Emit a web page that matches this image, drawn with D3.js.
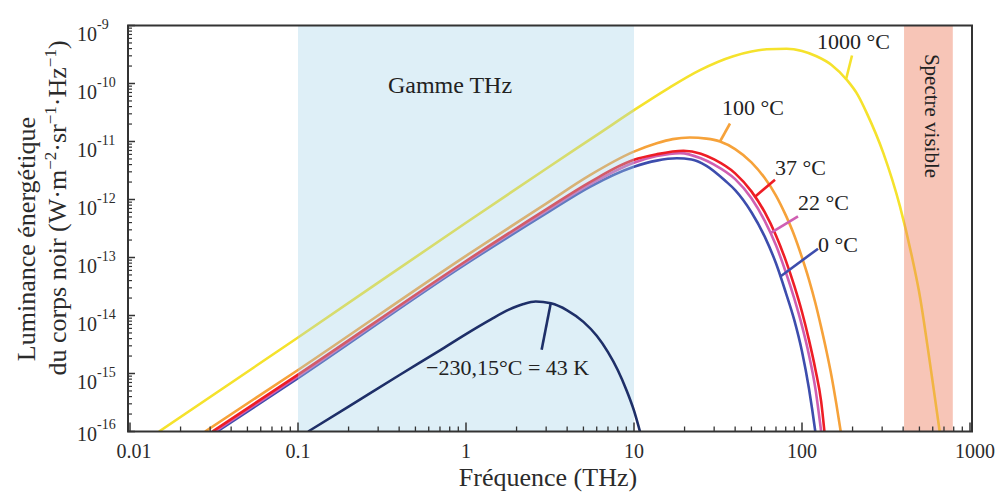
<!DOCTYPE html>
<html><head><meta charset="utf-8">
<script src="https://cdn.jsdelivr.net/npm/d3@7"></script>
<style>
html,body{margin:0;padding:0;background:#fff;}
svg{display:block;font-family:"Liberation Serif","Times New Roman",serif;}
</style></head><body>
<svg id="chart" width="999" height="493"></svg>
<script>
// ---------------- data (frequency in THz, spectral radiance in W·m-2·sr-1·Hz-1) ----------------
const freq1000C = [0.0149,0.1,1,3,6.28,10,15.65,24.7,39,50,61.7,81,100,122,150,185,215,243,305,383,460,504,560,610,660];
const lum1000C  = [1.00e-16,4.17e-15,3.98e-13,3.39e-12,1.41e-11,3.47e-11,7.94e-11,1.70e-10,2.95e-10,3.55e-10,3.89e-10,3.98e-10,3.63e-10,2.95e-10,2.09e-10,1.15e-10,6.31e-11,3.09e-11,6.31e-12,7.59e-13,7.94e-14,2.09e-14,2.82e-15,5.01e-16,1.00e-16];

const freq100C = [0.028,0.1,1,3,5.47,9.9,13.65,17,21.5,27,32.5,40,50,60,70,80,90,100,110,120,130,140,150,160,170];
const lum100C  = [1.00e-16,1.15e-15,1.07e-13,8.51e-13,2.63e-12,6.61e-12,9.33e-12,1.10e-11,1.17e-11,1.12e-11,1.00e-11,7.41e-12,4.37e-12,2.34e-12,1.17e-12,5.37e-13,2.40e-13,1.00e-13,4.17e-14,1.66e-14,6.31e-15,2.40e-15,8.91e-16,3.02e-16,1.00e-16];

const freq37C = [0.031,0.1,1,3,5.47,9.9,13.65,19.7,25,30,40,50,60,70,80,90,100,110,120,130,136];
const lum37C  = [1.00e-16,9.55e-16,8.71e-14,6.76e-13,2.00e-12,4.79e-12,6.03e-12,6.92e-12,6.17e-12,4.90e-12,2.82e-12,1.38e-12,6.03e-13,2.40e-13,8.91e-14,3.24e-14,1.15e-14,3.80e-15,1.20e-15,3.31e-16,1.00e-16];

const freq22C = [0.032,0.1,1,3,5.47,9.9,13.65,18.8,25,30,40,50,60,70,80,90,100,110,120,130];
const lum22C  = [1.00e-16,8.91e-16,8.32e-14,6.31e-13,1.82e-12,4.27e-12,5.62e-12,6.31e-12,5.13e-12,3.98e-12,2.24e-12,1.05e-12,4.27e-13,1.62e-13,5.62e-14,1.95e-14,6.61e-15,2.09e-15,5.62e-16,1.00e-16];

const freq0C = [0.033,0.1,1,3,5.47,9.9,13.65,18,22,27,35,40,50,60,70,80,90,100,110,115,120];
const lum0C  = [1.00e-16,8.32e-16,7.76e-14,5.75e-13,1.66e-12,3.63e-12,4.68e-12,5.13e-12,4.90e-12,3.80e-12,2.09e-12,1.45e-12,6.03e-13,2.29e-13,7.94e-14,2.51e-14,8.32e-15,2.40e-15,5.50e-16,2.40e-16,1.00e-16];

const freq43K = [0.115,0.2,0.4,0.7,1.0,1.4,1.8,2.2,2.6,3.2,4.0,5.0,6.0,7.0,8.0,9.0,10.0,10.9];
const lum43K  = [1.00e-16,2.69e-16,9.33e-16,2.51e-15,4.79e-15,8.51e-15,1.26e-14,1.58e-14,1.74e-14,1.62e-14,1.23e-14,7.76e-15,4.47e-15,2.34e-15,1.15e-15,5.25e-16,2.29e-16,9.55e-17];

const seriesNames = ["1000 °C","100 °C","0 °C","22 °C","37 °C","−230,15°C = 43 K"];
const seriesFreqs = [freq1000C,freq100C,freq0C,freq22C,freq37C,freq43K];
const seriesLums  = [lum1000C,lum100C,lum0C,lum22C,lum37C,lum43K];

// label anchors on curves (frequency, radiance)
const labelFreq = [182.8, 32.5, 74, 64.5, 52.5, 3.19];
const labelLum  = [1.17e-10, 1.0e-11, 4.67e-14, 2.61e-13, 1.12e-12, 1.6e-14];

// shaded ranges (THz)
const thzRange = [0.1, 10];
const visibleRange = [405, 790];
const thzRangeLabel = "Gamme THz";
const visibleRangeLabel = "Spectre visible";

// axes
const xTickValues = [0.01,0.1,1,10,100,1000];
const xTickLabels = ["0.01","0.1","1","10","100","1000"];
const yTickExponents = [-9,-10,-11,-12,-13,-14,-15,-16];
const xTitle = "Fréquence (THz)";
const yTitle1 = "Luminance énergétique";

(function(){
// ---------------- styles / layout ----------------
const colors = ["#f5e22c","#f6a23a","#3d4dad","#cf5fb2","#ee1d25","#1e2f68"];
const overBand = [false,false,false,false,false,true];
const leaderEnd = [[6,-24],[10,-18],[38,-28],[28,-17],[20,-17],[-9,46]];
const textPos   = [[-29,-31,"start"],[2,-27,"start"],[38,-25,"start"],[28,-23,"start"],[20,-22,"start"],[-43,71,"middle"]];
const ink = "#2b2b2b";

const svg = d3.select("#chart");
const x = d3.scaleLog().domain([0.01,1000]).range([130,970]);
const y = d3.scaleLog().domain([1e-16,1e-9]).range([431.5,25.5]);
const pL = x(0.01)-2, pR = x(1000)+2, pT = y(1e-9), pB = y(1e-16);

svg.append("rect").attr("width",999).attr("height",493).attr("fill","#fff");
svg.append("defs").append("clipPath").attr("id","plotclip")
  .append("rect").attr("x",pL).attr("y",pT).attr("width",pR-pL).attr("height",pB-pT);

const under = svg.append("g").attr("clip-path","url(#plotclip)");
const bands = svg.append("g").attr("clip-path","url(#plotclip)");
const over = svg.append("g").attr("clip-path","url(#plotclip)");
const line = d3.line().x(d=>x(d[0])).y(d=>y(d[1])).curve(d3.curveMonotoneX);

seriesFreqs.forEach((fr,i)=>{
  const pts = fr.map((f,j)=>[f, seriesLums[i][j]]);
  (overBand[i] ? over : under).append("path").datum(pts).attr("d",line)
    .attr("fill","none").attr("stroke",colors[i]).attr("stroke-width",2.6)
    .attr("stroke-linejoin","round");
});

// leader lines
labelFreq.forEach((f,i)=>{
  const ax = x(f), ay = y(labelLum[i]);
  over.append("line").attr("x1",ax).attr("y1",ay)
    .attr("x2",ax+leaderEnd[i][0]).attr("y2",ay+leaderEnd[i][1])
    .attr("stroke",colors[i]).attr("stroke-width",2.6);
});

// shaded bands (semi-transparent, over curves)
bands.append("rect").attr("x",x(thzRange[0])).attr("y",pT)
  .attr("width",x(thzRange[1])-x(thzRange[0])).attr("height",pB-pT)
  .attr("fill","#a1d1e7").attr("fill-opacity",0.35);
bands.append("rect").attr("x",x(visibleRange[0])).attr("y",pT)
  .attr("width",x(visibleRange[1])-x(visibleRange[0])).attr("height",pB-pT)
  .attr("fill","#ed7e5f").attr("fill-opacity",0.45);

// frame
svg.append("rect").attr("x",pL).attr("y",pT).attr("width",pR-pL).attr("height",pB-pT)
  .attr("fill","none").attr("stroke","#333").attr("stroke-width",2);

// x ticks
const xMinor = [];
for (let e=-2;e<3;e++) for (let m=2;m<10;m++) xMinor.push(m*Math.pow(10,e));
const gx = svg.append("g").attr("transform",`translate(0,${pB})`);
gx.selectAll("line.mn").data(xMinor).join("line")
  .attr("x1",d=>x(d)).attr("x2",d=>x(d)).attr("y1",0).attr("y2",-5)
  .attr("stroke","#333").attr("stroke-width",1.3);
gx.selectAll("line.mj").data(xTickValues).join("line")
  .attr("x1",d=>x(d)).attr("x2",d=>x(d)).attr("y1",0).attr("y2",-9)
  .attr("stroke","#333").attr("stroke-width",1.5);
gx.selectAll("text").data(xTickValues).join("text")
  .attr("x",d=>x(d)+(d===0.01?4:d===1000?5:0)).attr("y",26.5)
  .attr("text-anchor","middle").attr("font-size",20).attr("fill",ink)
  .text((d,i)=>xTickLabels[i]);

// y ticks
const yMinor = [];
for (let e=-16;e<-9;e++) for (let m=2;m<10;m++) yMinor.push(m*Math.pow(10,e));
const gy = svg.append("g").attr("transform",`translate(${pL},0)`);
gy.selectAll("line.mn").data(yMinor).join("line")
  .attr("y1",d=>y(d)).attr("y2",d=>y(d)).attr("x1",0).attr("x2",4)
  .attr("stroke","#333").attr("stroke-width",1.2);
gy.selectAll("line.mj").data(yTickExponents).join("line")
  .attr("y1",d=>y(Math.pow(10,d))).attr("y2",d=>y(Math.pow(10,d))).attr("x1",0).attr("x2",7)
  .attr("stroke","#333").attr("stroke-width",1.5);
yTickExponents.forEach(e=>{
  const ty = y(Math.pow(10,e));
  const shift = e===-16 ? -6 : 0;
  const t = svg.append("text").attr("font-size",20).attr("fill",ink);
  t.append("tspan").attr("x",77).attr("y",ty+15+shift).text("10");
  t.append("tspan").attr("x",97).attr("y",ty+3+shift).attr("font-size",14).text(String(e));
});

// axis titles
svg.append("text").attr("x",548).attr("y",486).attr("text-anchor","middle")
  .attr("font-size",26).attr("fill",ink).text(xTitle);
svg.append("text").attr("transform","translate(35,239) rotate(-90)").attr("text-anchor","middle")
  .attr("font-size",26).attr("fill",ink).text(yTitle1);
const yt2 = svg.append("text").attr("transform","translate(66,208) rotate(-90)").attr("text-anchor","middle")
  .attr("font-size",26).attr("fill",ink);
yt2.append("tspan").text("du corps noir (W·m");
yt2.append("tspan").attr("dy",-10).attr("font-size",17).text("−2");
yt2.append("tspan").attr("dy",10).text("·sr");
yt2.append("tspan").attr("dy",-10).attr("font-size",17).text("−1");
yt2.append("tspan").attr("dy",10).text("·Hz");
yt2.append("tspan").attr("dy",-10).attr("font-size",17).text("−1");
yt2.append("tspan").attr("dy",10).text(")");

// band labels
svg.append("text").attr("x",450).attr("y",93).attr("text-anchor","middle")
  .attr("font-size",24).attr("fill","#222").text(thzRangeLabel);
svg.append("text").attr("transform",`translate(${(x(visibleRange[0])+x(visibleRange[1]))/2-3},116) rotate(90)`)
  .attr("text-anchor","middle").attr("font-size",21).attr("fill","#222").text(visibleRangeLabel);

// curve labels
labelFreq.forEach((f,i)=>{
  const ax = x(f), ay = y(labelLum[i]);
  svg.append("text").attr("x",ax+textPos[i][0]).attr("y",ay+textPos[i][1])
    .attr("text-anchor",textPos[i][2]).attr("font-size",22).attr("fill","#222")
    .text(seriesNames[i]);
});
})();
</script>
</body></html>
